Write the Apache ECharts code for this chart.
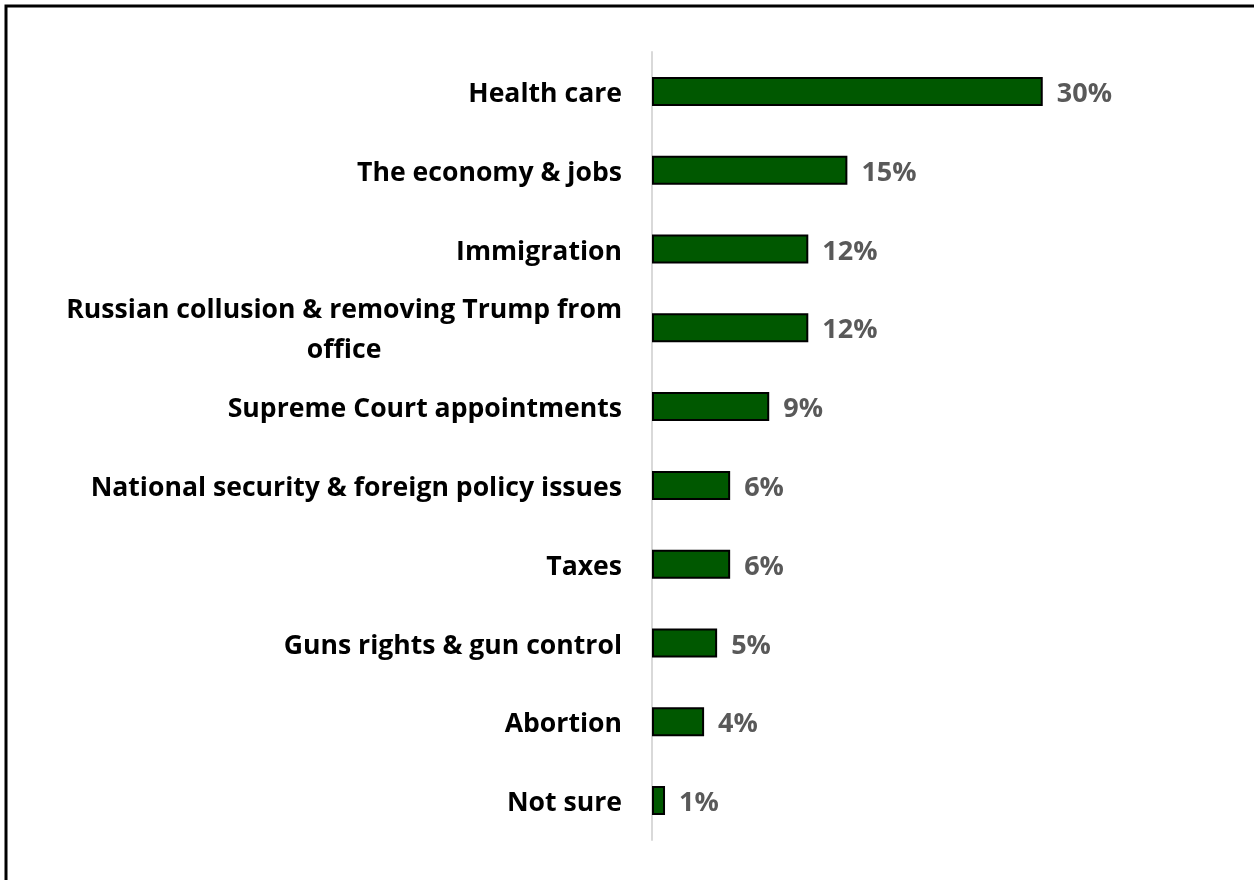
<!DOCTYPE html>
<html><head><meta charset="utf-8">
<script src="https://cdn.jsdelivr.net/npm/echarts@6/dist/echarts.min.js"></script>
<style>html,body{margin:0;padding:0;background:#fff}#c{width:1254px;height:880px}</style>
</head><body><div id="c"></div>
<script>
const categories = ["Health care","The economy & jobs","Immigration","Russian collusion & removing Trump from\noffice","Supreme Court appointments","National security & foreign policy issues","Taxes","Guns rights & gun control","Abortion","Not sure"];
const values = [30,15,12,12,9,6,6,5,4,1];

const FONT = '"Open Sans"';
const chart = echarts.init(document.getElementById('c'));
chart.setOption({
  animation:false,
  backgroundColor:'#fff',
  graphic:[{type:'rect',shape:{x:6,y:6,width:1400,height:1000},style:{fill:'none',stroke:'#000',lineWidth:3},silent:true}],
  grid:{left:652,right:81,top:52,bottom:40,containLabel:false},
  xAxis:{type:'value',min:0,max:40,show:false},
  yAxis:{type:'category',inverse:true,data:categories,
    axisLine:{show:true,lineStyle:{color:'#d9d9d9',width:2}},
    axisTick:{show:false},
    axisLabel:{margin:30,color:'#000',fontFamily:FONT,fontWeight:'bold',fontSize:26.6,lineHeight:40,padding:[6,0,0,0],
      formatter:function(v){return v.split('\n').map(function(s){return '{c|'+s+'}';}).join('\n');},
      rich:{c:{align:'center',color:'#000',fontFamily:FONT,fontWeight:'bold',fontSize:26.6,lineHeight:40}}}
  },
  series:[{type:'bar',data:values,barWidth:29,
    itemStyle:{color:'#005800',borderColor:'#000',borderWidth:2},
    label:{show:true,position:'right',distance:14,offset:[0,3],formatter:'{c}%',color:'#595959',fontFamily:FONT,fontWeight:'bold',fontSize:27}
  }]
});
</script></body></html>
